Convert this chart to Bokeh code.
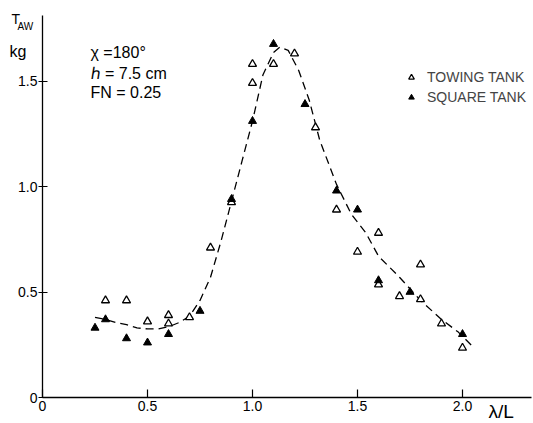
from bokeh.plotting import figure
from bokeh.models import Range1d, Label, Legend, LegendItem, FixedTicker, LinearAxis
from bokeh.embed import file_html
from bokeh.resources import INLINE

# Towing tank (open triangles)
tow_x = [0.3, 0.4, 0.5, 0.6, 0.6, 0.7, 0.8, 0.9, 1.0, 1.0, 1.1, 1.2, 1.3, 1.4, 1.5, 1.6, 1.6, 1.7, 1.8, 1.8, 1.9, 2.0]
tow_y = [0.46, 0.46, 0.36, 0.39, 0.35, 0.38, 0.71, 0.925, 1.58, 1.49, 1.58, 1.63, 1.28, 0.89, 0.69, 0.78, 0.535, 0.48, 0.63, 0.465, 0.35, 0.235]

# Square tank (filled triangles)
sq_x = [0.25, 0.3, 0.4, 0.5, 0.6, 0.75, 0.9, 1.0, 1.1, 1.25, 1.4, 1.5, 1.6, 1.75, 2.0]
sq_y = [0.33, 0.37, 0.28, 0.26, 0.30, 0.41, 0.94, 1.31, 1.675, 1.39, 0.98, 0.89, 0.555, 0.50, 0.30]

# Faired (dashed) curve
curve_x = [0.25, 0.3, 0.35, 0.4, 0.45, 0.5, 0.55, 0.6, 0.65, 0.7, 0.75, 0.8, 0.85, 0.9, 0.95, 1.0, 1.05, 1.1, 1.13, 1.17, 1.22, 1.27, 1.32, 1.4, 1.47, 1.54, 1.6, 1.7, 1.8, 1.9, 1.98, 2.05]
curve_y = [0.38, 0.37, 0.355, 0.345, 0.33, 0.325, 0.325, 0.335, 0.355, 0.385, 0.46, 0.57, 0.74, 0.93, 1.12, 1.31, 1.53, 1.635, 1.66, 1.645, 1.55, 1.41, 1.22, 1.01, 0.87, 0.78, 0.67, 0.57, 0.46, 0.37, 0.31, 0.24]

x_ticks = [0, 0.5, 1.0, 1.5, 2.0]
x_tick_labels = {0: "0", 0.5: "0.5", 1.0: "1.0", 1.5: "1.5", 2.0: "2.0"}
y_ticks = [0, 0.5, 1.0, 1.5]
y_tick_labels = {0: "0", 0.5: "0.5", 1.0: "1.0", 1.5: "1.5"}

FONT = "Liberation Sans"

W, H = 533, 423
X0_PX, Y0_PX, XS, YS = 42, 397, 210.0, 211.0   # origin position and px per unit

p = figure(width=W, height=H, output_backend="svg", toolbar_location=None,
           x_range=Range1d(-X0_PX / XS, (W - X0_PX) / XS),
           y_range=Range1d(-(H - Y0_PX) / YS, Y0_PX / YS),
           x_axis_type=None, y_axis_type=None,
           min_border=0)
p.outline_line_color = None
p.grid.visible = False
p.background_fill_color = "white"
p.border_fill_color = "white"

xax = LinearAxis(fixed_location=0, bounds=(0, 2.33))
yax = LinearAxis(fixed_location=0, bounds=(0, 1.81))
p.add_layout(xax, "below")
p.add_layout(yax, "left")

for ax in (xax, yax):
    ax.axis_line_color = "black"
    ax.axis_line_width = 1.3
    ax.major_tick_line_color = "black"
    ax.major_tick_line_width = 1.2
    ax.minor_tick_line_color = None
    ax.major_label_text_font = FONT
    ax.major_label_text_font_size = "14px"
    ax.major_label_text_color = "black"

xax.ticker = FixedTicker(ticks=x_ticks)
xax.major_label_overrides = x_tick_labels
xax.major_tick_in = 8
xax.major_tick_out = 0
xax.major_label_standoff = 3

yax.ticker = FixedTicker(ticks=y_ticks)
yax.major_label_overrides = y_tick_labels
yax.major_tick_in = 5
yax.major_tick_out = 4
yax.major_label_standoff = 1

p.line(curve_x, curve_y, line_color="black", line_width=1.3, line_dash="8 5")
r_tow = p.scatter(tow_x, tow_y, marker="triangle", size=8, fill_color="white",
                  line_color="black", line_width=1.3)
r_sq = p.scatter(sq_x, sq_y, marker="triangle", size=8, fill_color="black",
                 line_color="black", line_width=1.0)

legend = Legend(items=[LegendItem(label="TOWING TANK", renderers=[r_tow]),
                       LegendItem(label="SQUARE TANK", renderers=[r_sq])],
                location=(404, 316), padding=0, margin=0, spacing=0,
                glyph_width=14, glyph_height=20, label_height=20, label_standoff=9,
                label_text_font=FONT, label_text_font_size="14px",
                border_line_color=None, background_fill_alpha=0)
p.add_layout(legend, "center")

def lab(x, y, text, size="16px", **kw):
    p.add_layout(Label(x=x, y=y, x_units="screen", y_units="screen", text=text,
                       text_font=FONT, text_font_size=size, text_color="black",
                       text_font_style="normal", text_baseline="middle", **kw))

lab(90, 371, "χ =180°")
lab(90, 350, "ℎ = 7.5 cm")
lab(90, 331, "FN = 0.25")
lab(11, 405, "T", size="14px")
lab(17, 397, "AW", size="10px")
lab(9, 372, "kg", size="16px")
lab(488, 12, "λ/L", size="19px")

open("out.html", "w").write(file_html(p, INLINE))
